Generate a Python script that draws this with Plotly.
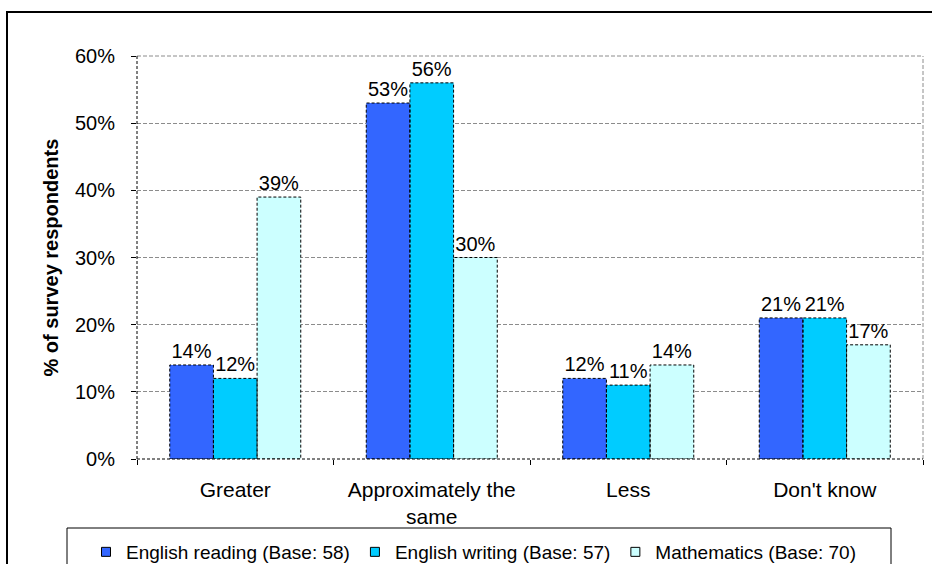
import plotly.graph_objects as go

# Survey responses by category
categories = ["Greater", "Approximately the<br>same", "Less", "Don't know"]
series_names = [
    "English reading (Base: 58)",
    "English writing (Base: 57)",
    "Mathematics (Base: 70)",
]
reading = [0.14, 0.53, 0.12, 0.21]
writing = [0.12, 0.56, 0.11, 0.21]
maths = [0.39, 0.30, 0.14, 0.17]
series_values = [reading, writing, maths]
colors = ["#3366FF", "#00CCFF", "#CCFFFF"]
y_ticks = [0, 0.1, 0.2, 0.3, 0.4, 0.5, 0.6]

FONT = "Arial, Liberation Sans, sans-serif"
W, H = 932, 564
ML, MR, MT, MB = 137, 9, 56, 105
PW, PH = W - ML - MR, H - MT - MB

BARGAP = 1 / 3
n_series = len(series_values)
bar_w = (1 - BARGAP) / n_series


def px_x(px):
    return (px - ML) / PW


def px_y(py):
    return (H - MB - py) / PH


fig = go.Figure()

for name, vals, col in zip(series_names, series_values, colors):
    fig.add_trace(go.Bar(
        x=categories, y=vals, name=name,
        marker=dict(color=col, line=dict(width=0)),
        texttemplate="%{y:.0%}", textposition="outside",
        textfont=dict(family=FONT, size=20, color="black"),
        constraintext="none", cliponaxis=False, showlegend=False,
    ))

# legend swatches
for name, col in zip(series_names, colors):
    fig.add_trace(go.Scatter(
        x=[None], y=[None], mode="markers", name=name,
        marker=dict(symbol="square", size=9, color=col,
                    line=dict(color="black", width=1)),
    ))

shapes = []
# dashed outlines around each bar
for i, vals in enumerate(series_values):
    for k, v in enumerate(vals):
        x0 = k - (1 - BARGAP) / 2 + i * bar_w
        shapes.append(dict(
            type="rect", xref="x", yref="y",
            x0=x0, x1=x0 + bar_w, y0=0, y1=v,
            line=dict(color="black", width=1, dash="3px,2px"),
            fillcolor="rgba(0,0,0,0)", layer="above",
        ))

# plot frame: grey dashed top/right, black dashed axes
shapes += [
    dict(type="line", xref="paper", yref="paper", x0=0, x1=1, y0=1, y1=1,
         line=dict(color="#8c8c8c", width=1, dash="4px,2px")),
    dict(type="line", xref="paper", yref="paper", x0=1, x1=1, y0=0, y1=1,
         line=dict(color="#8c8c8c", width=1, dash="4px,2px")),
    dict(type="line", xref="paper", yref="paper", x0=0, x1=0, y0=0, y1=1,
         line=dict(color="black", width=1, dash="3px,2px")),
    dict(type="line", xref="paper", yref="paper", x0=0, x1=1, y0=0, y1=0,
         line=dict(color="black", width=1, dash="3px,2px")),
]

# outer chart border and legend box
shapes += [
    dict(type="rect", xref="paper", yref="paper",
         x0=px_x(7), x1=px_x(W + 10), y0=px_y(H + 10), y1=px_y(12),
         line=dict(color="black", width=2), fillcolor="rgba(0,0,0,0)"),
    dict(type="rect", xref="paper", yref="paper",
         x0=px_x(67), x1=px_x(891), y0=px_y(H + 10), y1=px_y(528),
         line=dict(color="black", width=1), fillcolor="rgba(0,0,0,0)"),
]

fig.update_layout(
    width=W, height=H,
    margin=dict(l=ML, r=MR, t=MT, b=MB, autoexpand=False),
    paper_bgcolor="white", plot_bgcolor="white",
    barmode="group", bargap=BARGAP, bargroupgap=0,
    font=dict(family=FONT, size=20, color="black"),
    shapes=shapes,
    showlegend=True,
    legend=dict(
        orientation="h", x=px_x(86), xanchor="left",
        y=px_y(533), yanchor="top",
        font=dict(family=FONT, size=19, color="black"),
        bgcolor="rgba(0,0,0,0)", borderwidth=0,
    ),
    annotations=[dict(
        text="<b>% of survey respondents</b>", textangle=-90,
        xref="paper", yref="paper", x=px_x(50), y=0.5,
        xanchor="center", yanchor="middle", showarrow=False,
        font=dict(family=FONT, size=20, color="black"),
    )],
)

fig.update_xaxes(
    type="category", showgrid=False, showline=False, zeroline=False,
    automargin=False,
    ticks="outside", tickson="boundaries", ticklen=5, tickcolor="black",
    tickfont=dict(family=FONT, size=21, color="black"),
    ticklabelstandoff=16,
)
fig.update_yaxes(
    range=[0, 0.6], tickvals=y_ticks, tickformat=".0%",
    automargin=False,
    showgrid=True, gridcolor="#8c8c8c", gridwidth=1, griddash="4px,2px",
    showline=False, zeroline=False,
    ticks="outside", ticklen=5, tickcolor="black",
    tickfont=dict(family=FONT, size=20, color="black"),
    ticklabelstandoff=12,
)

fig.write_html("out.html")
